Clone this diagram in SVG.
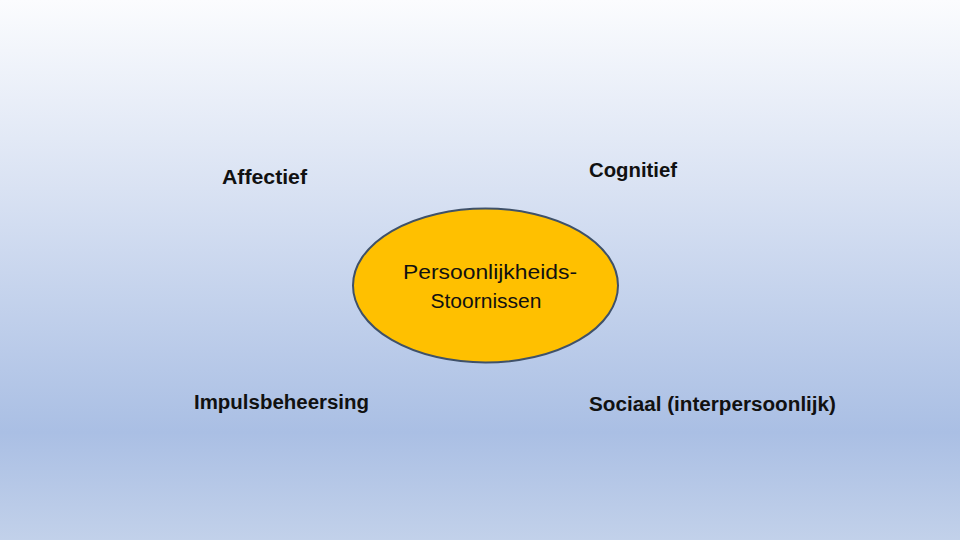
<svg xmlns="http://www.w3.org/2000/svg" width="960" height="540" viewBox="0 0 960 540">
<defs>
<linearGradient id="bg" x1="0" y1="0" x2="0" y2="1">
<stop offset="0" stop-color="#fbfcfe"/>
<stop offset="0.35" stop-color="#d9e2f3"/>
<stop offset="0.8" stop-color="#aabfe4"/>
<stop offset="1" stop-color="#c2d1ea"/>
</linearGradient>
<style>
.lbl{font-family:"Liberation Sans","DejaVu Sans",sans-serif;font-weight:bold;font-size:20px;fill:#111}
.ctr{font-family:"Liberation Sans","DejaVu Sans",sans-serif;font-size:20px;fill:#111;text-anchor:middle}
.ell{fill:#ffc000;stroke:#3f5169;stroke-width:2}
</style>
</defs>
<rect width="960" height="540" fill="url(#bg)"/>
<g id="connectors"/>
<g id="center">
<ellipse class="ell" cx="485.5" cy="285.5" rx="132.5" ry="77"/>
<text class="ctr" x="490" y="279" textLength="174" lengthAdjust="spacingAndGlyphs">Persoonlijkheids-</text>
<text class="ctr" x="486" y="308" textLength="111" lengthAdjust="spacingAndGlyphs">Stoornissen</text>
</g>
<g id="affectief"><text class="lbl" x="222" y="184" textLength="85" lengthAdjust="spacingAndGlyphs">Affectief</text></g>
<g id="cognitief"><text class="lbl" x="589" y="177" textLength="88" lengthAdjust="spacingAndGlyphs">Cognitief</text></g>
<g id="impuls"><text class="lbl" x="194" y="409" textLength="175" lengthAdjust="spacingAndGlyphs">Impulsbeheersing</text></g>
<g id="sociaal"><text class="lbl" x="589" y="411" textLength="247" lengthAdjust="spacingAndGlyphs">Sociaal (interpersoonlijk)</text></g>
</svg>
